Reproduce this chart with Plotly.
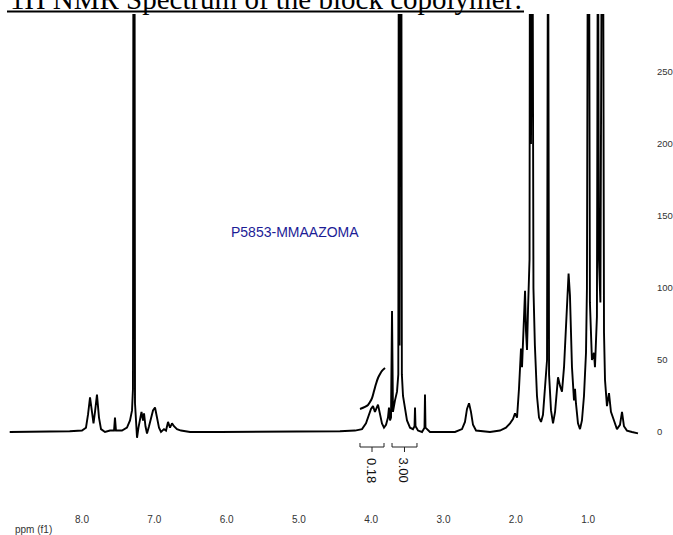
import plotly.graph_objects as go

# ---------------- data ----------------
ppm = [9.00, 8.58, 8.17, 8.00, 7.945, 7.917, 7.889, 7.862, 7.841, 7.820, 7.793, 7.765,
       7.737, 7.682, 7.613, 7.557, 7.544, 7.530, 7.447, 7.378, 7.336, 7.308, 7.295,
       7.288, 7.274, 7.267, 7.253, 7.239, 7.219, 7.198, 7.177, 7.156, 7.142, 7.122,
       7.101, 7.073, 7.046, 7.018, 6.990, 6.963, 6.935, 6.907, 6.866, 6.838, 6.810,
       6.783, 6.755, 6.728, 6.686, 6.631, 6.506, 6.090, 5.538, 4.985, 4.432, 4.224,
       4.127, 4.072, 4.030, 4.003, 3.975, 3.948, 3.906, 3.878, 3.851, 3.823, 3.795,
       3.768, 3.754, 3.740, 3.726, 3.712, 3.699, 3.671, 3.643, 3.625, 3.618, 3.608,
       3.600, 3.584, 3.576, 3.560, 3.533, 3.505, 3.463, 3.422, 3.401, 3.394, 3.387,
       3.353, 3.297, 3.263, 3.256, 3.249, 3.187, 2.841, 2.744, 2.703, 2.675, 2.647,
       2.620, 2.592, 2.550, 2.357, 2.219, 2.136, 2.080, 2.039, 2.011, 1.983, 1.956,
       1.928, 1.914, 1.886, 1.872, 1.859, 1.845, 1.831, 1.810, 1.804, 1.790, 1.770,
       1.756, 1.736, 1.707, 1.679, 1.651, 1.624, 1.596, 1.568, 1.554, 1.540, 1.513,
       1.485, 1.457, 1.430, 1.416, 1.388, 1.361, 1.333, 1.305, 1.291, 1.270, 1.251,
       1.237, 1.223, 1.195, 1.181, 1.168, 1.140, 1.112, 1.085, 1.057, 1.029, 1.016,
       1.002, 0.988, 0.975, 0.947, 0.919, 0.905, 0.878, 0.864, 0.850, 0.830, 0.808,
       0.794, 0.780, 0.766, 0.739, 0.711, 0.684, 0.642, 0.601, 0.559, 0.531, 0.504,
       0.463, 0.393, 0.310]
intensity = [0, 0, 0.5, 1, 3, 12, 24, 14, 6, 14, 26, 10,
             2, 0, 1, 1, 10, 1, 1, 3, 8, 15, 30,
             400, 400, 20, 2, -4, 3, 10, 14, 8, 13, 4,
             -1, 4, 9, 15, 17, 11, 3, 0, 2, 1, 7,
             3, 6, 4, 2, 1, 0, 0, 0, 0, 0.5, 1,
             2, 6, 12, 16, 18, 14, 19, 13, 6, 3, 5,
             10, 17, 8, 10, 84, 14, 22, 28, 40, 400, 60,
             400, 400, 40, 25, 15, 8, 3, 2, 4, 17, 4,
             1, 0, 3, 26, 3, 0, 0, 2, 7, 16, 20,
             14, 5, 1, 0, 1, 3, 6, 9, 13, 10, 30,
             58, 45, 75, 98, 70, 57, 85, 120, 400, 200, 400,
             100, 60, 25, 10, 7, 12, 30, 50, 400, 40, 15,
             6, 14, 30, 38, 32, 28, 45, 70, 90, 110, 95,
             70, 45, 22, 30, 20, 6, 2, 8, 25, 55, 100,
             400, 400, 90, 50, 55, 45, 80, 400, 120, 90, 400,
             400, 69, 36, 18, 27, 14, 8, 2, 5, 14, 4,
             1, 0, -1]

integral_ppm = [4.155, 4.086, 4.044, 4.017, 3.989, 3.961, 3.934, 3.906, 3.878, 3.851, 3.809]
integral_val = [16.0, 17.4, 18.8, 20.8, 23.6, 28.5, 33.3, 37.5, 40.3, 42.4, 44.4]

int_start = [4.155, 3.712]
int_end = [3.823, 3.367]
int_values = ["0.18", "3.00"]

x_ticks = [8.0, 7.0, 6.0, 5.0, 4.0, 3.0, 2.0, 1.0]
y_ticks = [0, 50, 100, 150, 200, 250]

title_text = "1H NMR Spectrum of the block copolymer:"
sample_label = "P5853-MMAAZOMA"
x_label = "ppm (f1)"

# ---------------- layout geometry ----------------
W, H = 673, 535
ML, MR, MT, MB = 0, 17, 14, 23
PW, PH = W - ML - MR, H - MT - MB
PX0, PPM0, PX_PER_PPM = 82, 8.0, 72.3   # pixel of 8.0 ppm, scale
PY0, PY_PER_UNIT = 432, 1.44            # pixel of zero intensity


def ppm_at(px):
    return PPM0 - (px - PX0) / PX_PER_PPM


def val_at(py):
    return (PY0 - py) / PY_PER_UNIT


def xp(px):
    return (px - ML) / PW


def yp(py):
    return (H - MB - py) / PH


fig = go.Figure()
fig.add_trace(go.Scatter(x=ppm, y=intensity, mode="lines",
                         line=dict(color="black", width=1.9), hoverinfo="skip"))
fig.add_trace(go.Scatter(x=integral_ppm, y=integral_val, mode="lines",
                         line=dict(color="black", width=2, shape="spline"), hoverinfo="skip"))

shapes = []
annotations = []
y_bar, y_end, y_tick = val_at(447), val_at(443), val_at(452)
for s, e, v in zip(int_start, int_end, int_values):
    c = (s + e) / 2
    ln = dict(type="line", xref="x", yref="y", line=dict(color="#222", width=1))
    shapes.append({**ln, "x0": s, "x1": e, "y0": y_bar, "y1": y_bar})
    shapes.append({**ln, "x0": s, "x1": s, "y0": y_end, "y1": y_bar})
    shapes.append({**ln, "x0": e, "x1": e, "y0": y_end, "y1": y_bar})
    shapes.append({**ln, "x0": c, "x1": c, "y0": y_bar, "y1": y_tick})
    annotations.append(dict(x=c, y=val_at(470), xref="x", yref="y", text=v, textangle=90,
                            showarrow=False, font=dict(family="Liberation Sans, Arial", size=13, color="#111")))

# title (partly cut off at top) with underline
annotations.append(dict(x=xp(8), y=yp(17), xref="paper", yref="paper", xanchor="left", yanchor="bottom",
                        text=title_text, showarrow=False,
                        font=dict(family="Liberation Serif, Times New Roman", size=29, color="black")))
shapes.append(dict(type="line", xref="paper", yref="paper", x0=xp(7), x1=xp(524), y0=yp(11.5), y1=yp(11.5),
                   line=dict(color="black", width=2)))

annotations.append(dict(x=xp(295), y=yp(232), xref="paper", yref="paper", text=sample_label, showarrow=False,
                        font=dict(family="Liberation Sans, Arial", size=14, color="#1c1c96")))
annotations.append(dict(x=xp(13), y=yp(529), xref="paper", yref="paper", xanchor="left", yanchor="middle",
                        text=x_label, showarrow=False,
                        font=dict(family="Liberation Sans, Arial", size=10, color="#333")))

fig.update_layout(
    width=W, height=H, margin=dict(l=ML, r=MR, t=MT, b=MB, autoexpand=False),
    paper_bgcolor="white", plot_bgcolor="white", showlegend=False,
    shapes=shapes, annotations=annotations,
    xaxis=dict(range=[ppm_at(ML), ppm_at(ML + PW)], tickvals=x_ticks,
               ticktext=[f"{t:.1f}" for t in x_ticks], showgrid=False, zeroline=False,
               showline=False, ticks="", tickfont=dict(family="Liberation Sans, Arial", size=10, color="#333")),
    yaxis=dict(range=[val_at(H - MB), val_at(MT)], side="right", tickvals=y_ticks,
               showgrid=False, zeroline=False, showline=False, ticks="", automargin=False,
               tickfont=dict(family="Liberation Sans, Arial", size=9.5, color="#333")),
)

fig.write_html("out.html", config={"displayModeBar": False},
               post_script="document.body.style.margin='0';document.body.style.padding='0';")
